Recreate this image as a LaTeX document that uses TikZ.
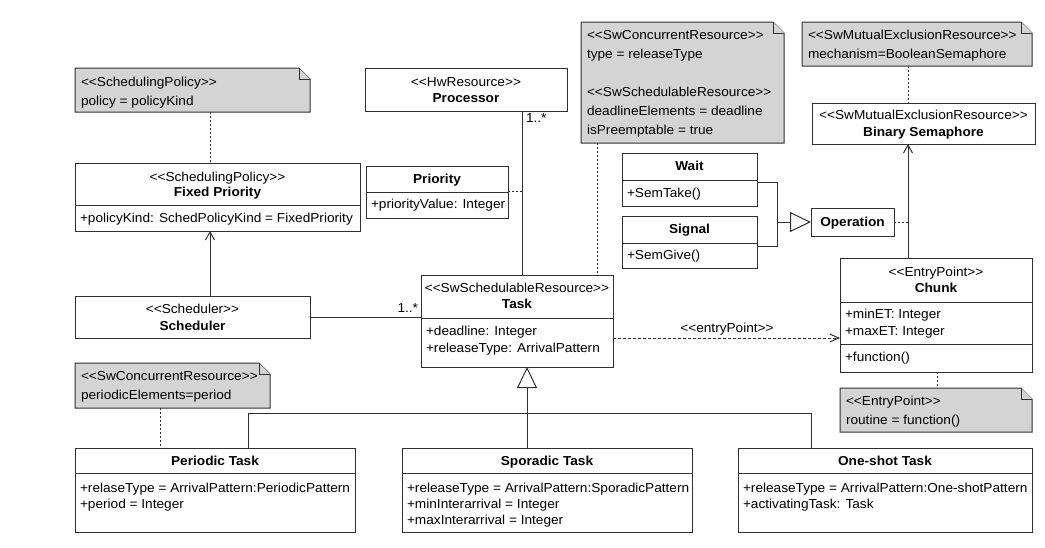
\documentclass[tikz,border=0pt]{standalone}
\usepackage{fontspec}
\setmainfont{Liberation Sans}[FakeStretch=1.05]
\usetikzlibrary{arrows.meta}
\definecolor{ln}{HTML}{303030}
\definecolor{notefill}{HTML}{D4D4D4}
\newcommand\fs{\fontsize{13}{16}\selectfont}
\newcommand\st[1]{<\kern0pt<#1>\kern0pt>}
\newcommand\drawnote[1]{%
  \draw[notedraw] (#1.north west) -- ([xshift=-11pt]#1.north east) -- ([yshift=-11pt]#1.north east) -- (#1.south east) -- (#1.south west) -- cycle;
  \draw[notedraw] ([xshift=-11pt]#1.north east) -- ([xshift=-11pt,yshift=-11pt]#1.north east) -- ([yshift=-11pt]#1.north east);}
\begin{document}
\begin{tikzpicture}[x=1pt,y=-1pt,
  every node/.style={inner sep=0pt, outer sep=0pt},
  cls/.style={draw=ln, line width=1pt, fill=white, anchor=north west},
  notebox/.style={anchor=north west},
  notedraw/.style={draw=ln, line width=1pt, fill=notefill, line join=miter},
  tl/.style={font=\fs, anchor=base west, text=black},
  tc/.style={font=\fs, anchor=base, text=black},
  tb/.style={font=\fs\bfseries, anchor=base, text=black},
  sepline/.style={draw=ln, line width=1pt},
  assoc/.style={draw=ln, line width=1pt},
  nav/.style={assoc, -{Straight Barb[length=8pt,width=9pt,line width=1pt]}},
  gen/.style={assoc, -{Triangle[open,length=21pt,width=20pt,fill=white,line width=1pt]}},
  notelink/.style={draw=ln, line width=1pt, dash pattern=on 2pt off 2pt},
  dep/.style={draw=ln, line width=1pt, dash pattern=on 3pt off 2pt, -{Straight Barb[length=9pt,width=8pt,line width=1pt]}},
]
\useasboundingbox (0,0) rectangle (1045,547);
\fill[white] (0,0) rectangle (1045,547);

% ---------- notes ----------
\node[notebox, minimum width=235pt, minimum height=44pt] (nsp) at (75,68) {};
\drawnote{nsp}
\node[tl] (nsp1) at (81,86) {\st{SchedulingPolicy}};
\node[tl] (nsp2) at (81,105.5) {policy = policyKind};

\node[notebox, minimum width=203pt, minimum height=121pt] (nsc) at (581,22) {};
\drawnote{nsc}
\node[tl] (nsc1) at (587,39.5) {\st{SwConcurrentResource}};
\node[tl] (nsc2) at (587,58.5) {type = releaseType};
\node[tl] (nsc3) at (587,96.5) {\st{SwSchedulableResource}};
\node[tl] (nsc4) at (587,115.5) {deadlineElements = deadline};
\node[tl] (nsc5) at (587,134.5) {isPreemptable = true};

\node[notebox, minimum width=230pt, minimum height=44pt] (nme) at (802,22) {};
\drawnote{nme}
\node[tl] (nme1) at (808,39.5) {\st{SwMutualExclusionResource}};
\node[tl] (nme2) at (808,58.5) {mechanism=BooleanSemaphore};

\node[notebox, minimum width=192pt, minimum height=44pt] (nep) at (840,388) {};
\drawnote{nep}
\node[tl] (nep1) at (846,405.5) {\st{EntryPoint}};
\node[tl] (nep2) at (846,424.5) {routine = function()};

\node[notebox, minimum width=195pt, minimum height=45pt] (npe) at (75,363) {};
\drawnote{npe}
\node[tl] (npe1) at (81,380.5) {\st{SwConcurrentResource}};
\node[tl] (npe2) at (81,399.5) {periodicElements=period};

% ---------- classes ----------
\node[cls, minimum width=202pt, minimum height=43pt] (proc) at (365,68) {};
\node[tc] (proc1) at (466,86.5) {\st{HwResource}};
\node[tb] (proc2) at (466,102.5) {Processor};

\node[cls, minimum width=285pt, minimum height=68pt] (fixed) at (75,163) {};
\draw[sepline] (75,205) -- (360,205);
\node[tc] (fixed1) at (217.5,181) {\st{SchedulingPolicy}};
\node[tb] (fixed2) at (217.5,196) {Fixed Priority};
\node[tl] (fixed3) at (80,222.5) {+policyKind: SchedPolicyKind = FixedPriority};

\node[cls, minimum width=142pt, minimum height=52pt] (prio) at (366,166) {};
\draw[sepline] (366,192) -- (508,192);
\node[tb] (prio1) at (437,183.5) {Priority};
\node[tl] (prio2) at (371,208.5) {+priorityValue: Integer};

\node[cls, minimum width=135pt, minimum height=53pt] (wait) at (622,153) {};
\draw[sepline] (622,180) -- (757,180);
\node[tb] (wait1) at (689.5,170.5) {Wait};
\node[tl] (wait2) at (627,197.5) {+SemTake()};

\node[cls, minimum width=135pt, minimum height=52pt] (signal) at (622,216) {};
\draw[sepline] (622,243) -- (757,243);
\node[tb] (signal1) at (689.5,233.5) {Signal};
\node[tl] (signal2) at (627,259.5) {+SemGive()};

\node[cls, minimum width=83pt, minimum height=28pt] (oper) at (811,208) {};
\node[tb] (oper1) at (852.5,226.5) {Operation};

\node[cls, minimum width=223pt, minimum height=41pt] (binsem) at (812,103) {};
\node[tc] (binsem1) at (923.5,119.5) {\st{SwMutualExclusionResource}};
\node[tb] (binsem2) at (923.5,136) {Binary Semaphore};

\node[cls, minimum width=235pt, minimum height=42pt] (sched) at (75,296) {};
\node[tc] (sched1) at (192.5,313.5) {\st{Scheduler}};
\node[tb] (sched2) at (192.5,330.5) {Scheduler};

\node[cls, minimum width=192pt, minimum height=92pt] (task) at (421,275) {};
\draw[sepline] (421,318) -- (613,318);
\node[tc] (task1) at (517,292.5) {\st{SwSchedulableResource}};
\node[tb] (task2) at (517,308.5) {Task};
\node[tl] (task3) at (426,335.5) {+deadline: Integer};
\node[tl] (task4) at (426,352.5) {+releaseType: ArrivalPattern};

\node[cls, minimum width=192pt, minimum height=114pt] (chunk) at (840,258) {};
\draw[sepline] (840,302) -- (1032,302);
\draw[sepline] (840,344) -- (1032,344);
\node[tc] (chunk1) at (936,276.5) {\st{EntryPoint}};
\node[tb] (chunk2) at (936,292.5) {Chunk};
\node[tl] (chunk3) at (845,318.5) {+minET: Integer};
\node[tl] (chunk4) at (845,335.5) {+maxET: Integer};
\node[tl] (chunk5) at (845,361.5) {+function()};

\node[cls, minimum width=280pt, minimum height=84pt] (periodic) at (75,448) {};
\draw[sepline] (75,473) -- (355,473);
\node[tb] (per1) at (215,465.5) {Periodic Task};
\node[tl] (per2) at (80,492.5) {+relaseType = ArrivalPattern:PeriodicPattern};
\node[tl] (per3) at (80,508.5) {+period = Integer};

\node[cls, minimum width=290pt, minimum height=84pt] (sporadic) at (402,448) {};
\draw[sepline] (402,473) -- (692,473);
\node[tb] (spo1) at (547,465.5) {Sporadic Task};
\node[tl] (spo2) at (407,492.5) {+releaseType = ArrivalPattern:SporadicPattern};
\node[tl] (spo3) at (407,508.5) {+minInterarrival = Integer};
\node[tl] (spo4) at (407,524.5) {+maxInterarrival = Integer};

\node[cls, minimum width=294pt, minimum height=84pt] (oneshot) at (738,448) {};
\draw[sepline] (738,473) -- (1032,473);
\node[tb] (one1) at (885,465.5) {One-shot Task};
\node[tl] (one2) at (743,492.5) {+releaseType = ArrivalPattern:One-shotPattern};
\node[tl] (one3) at (743,508.5) {+activatingTask: Task};

% ---------- connectors ----------
\coordinate (c1) at (210,0);
\draw[notelink] (nsp.south -| c1) -- (fixed.north -| c1);
\draw[nav] (sched.north -| c1) -- (fixed.south -| c1);

\coordinate (c2) at (0,317);
\draw[assoc] (sched.east |- c2) -- (task.west |- c2);
\node[tc, anchor=base east] (m1) at (418,312.5) {1..*};

\coordinate (c3) at (522,0);
\draw[assoc] (proc.south -| c3) -- (task.north -| c3);
\node[tl] (m2) at (526,122.5) {1..*};

\coordinate (c4) at (522,191);
\draw[notelink] (prio.east |- c4) -- (c4);

\coordinate (c5) at (597,0);
\draw[notelink] (nsc.south -| c5) -- (task.north -| c5);

\coordinate (c6) at (908,0);
\draw[notelink] (nme.south -| c6) -- (binsem.north -| c6);
\draw[nav] (chunk.north -| c6) -- (binsem.south -| c6);

\coordinate (c7) at (908,222);
\draw[notelink] (oper.east |- c7) -- (c7);

\coordinate (wj) at (777,182);
\coordinate (sj) at (777,246);
\coordinate (oj) at (777,222);
\draw[assoc] (wait.east |- wj) -- (wj) -- (sj) -- (signal.east |- sj);
\draw[gen] (oj) -- (oper.west |- oj);

\coordinate (c9) at (0,338);
\draw[dep] (task.east |- c9) -- (chunk.west |- c9);
\node[tc] (deplabel) at (727,332.5) {\st{entryPoint}};

\coordinate (c10) at (937,0);
\draw[notelink] (chunk.south -| c10) -- (nep.north -| c10);

\coordinate (c11) at (160,0);
\draw[notelink] (npe.south -| c11) -- (periodic.north -| c11);

\coordinate (g) at (527,413);
\coordinate (gl) at (248,413);
\coordinate (gr) at (811,413);
\draw[gen] (sporadic.north -| g) -- (task.south -| g);
\draw[assoc] (periodic.north -| gl) -- (gl) -- (gr) -- (oneshot.north -| gr);
\end{tikzpicture}
\end{document}
